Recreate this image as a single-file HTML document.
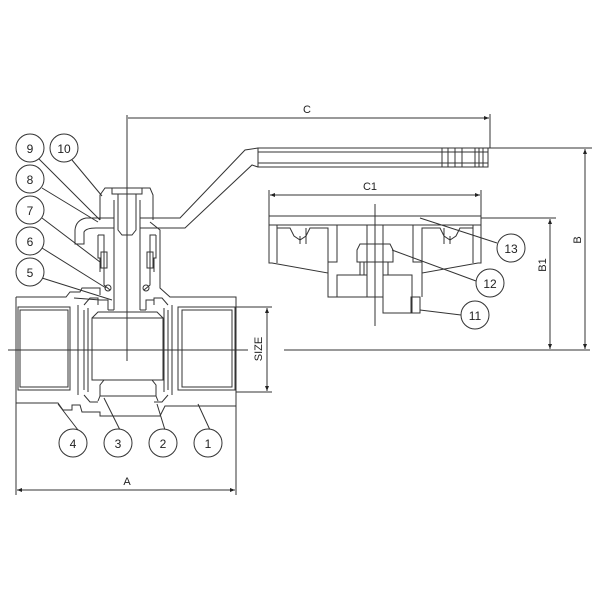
<!DOCTYPE html>
<html><head><meta charset="utf-8"><style>
html,body{margin:0;padding:0;background:#fff;}
svg{display:block;}
text{font-family:"Liberation Sans",Arial,sans-serif;fill:#222;}
</style></head><body>
<svg width="600" height="600" viewBox="0 0 600 600" xmlns="http://www.w3.org/2000/svg">
<defs>
<marker id="ar" viewBox="0 0 10 10" refX="10" refY="5" markerWidth="8" markerHeight="5" orient="auto-start-reverse" markerUnits="userSpaceOnUse">
<path d="M0,1 L10,5 L0,9 z" fill="#222"/></marker>
</defs>
<g fill="none" stroke="#333" stroke-width="1">
<!-- centre lines -->
<line x1="8" y1="350" x2="248" y2="350"/>
<line x1="284" y1="350" x2="590" y2="350"/>
<line x1="127" y1="115" x2="127" y2="361"/>
<line x1="375" y1="204" x2="375" y2="326"/>

<!-- body outer -->
<path d="M16,297 L16,403 L58,403 L63,410 L72,410 L72,405 L80,405 L82,412 L100,412 L100,416 L160,416 L165,406 L236,406 L236,297 L170,297 L160,288 L160,230 L150,222"/>
<path d="M16,297 L66,297 L70,292 L80,292 L82,288 L100,288 L100,295"/>
<path d="M74,298 L100,300"/>
<!-- end bores -->
<rect x="18" y="307" width="52" height="83"/>
<rect x="20" y="310" width="48" height="77"/>
<rect x="178" y="307" width="57" height="83"/>
<rect x="182" y="310" width="50" height="77"/>
<!-- seats -->
<path d="M78,305 L78,395 M84,310 L84,390 M88,308 L88,392"/>
<path d="M172,305 L172,395 M168,310 L168,390 M164,308 L164,392"/>
<path d="M84,305 L90,298 L98,298 L98,305 M84,395 L90,402 L98,402"/>
<path d="M168,305 L162,298 L154,298 L154,305 M168,395 L162,402 L154,402"/>
<!-- ball -->
<path d="M92,318 L92,380 L163,380 L163,318 Z"/>
<path d="M92,318 L98,312 L157,312 L163,318"/>
<path d="M100,385 L104,380 L152,380 L156,385 L156,396 L100,396 Z"/>
<path d="M98,401 L100,396 M156,396 L158,401"/>
<!-- stem -->
<path d="M114,310 L114,200 M140,310 L140,200"/>
<path d="M108,310 L114,310 M140,310 L146,310"/>
<path d="M100,300 L108,300 L108,310 M154,300 L146,300 L146,310"/>
<!-- nut top -->
<path d="M100,220 L100,195 L105,188 L150,188 L153,195 L153,220"/>
<rect x="112" y="188" width="30" height="6"/>
<path d="M118,194 L118,230 L122,235 L132,235 L136,230 L136,194"/>
<!-- gland -->
<path d="M98,235 L104,235 L104,285 L110,290 M156,235 L150,235 L150,285 L144,290"/>
<path d="M98,235 L98,258 L100,258 L100,272 M156,235 L156,258 L154,258 L154,272"/>
<rect x="101" y="252" width="6" height="16"/>
<rect x="147" y="252" width="6" height="16"/>
<circle cx="108" cy="288" r="3"/><circle cx="146" cy="288" r="3"/>
<path d="M160,230 L160,270"/>
<!-- handle -->
<path d="M100,218 L86,218 Q76,220 75,230 L75,244 L84,244 L84,232 Q86,228 96,228 L114,228"/>
<path d="M100,218 L114,218 M140,218 L180,218 L245,150 L258,148 M140,228 L185,228 L252,165 L258,167"/>
<rect x="258" y="148" width="230" height="19"/>
<line x1="258" y1="152" x2="488" y2="152"/>
<line x1="258" y1="163" x2="488" y2="163"/>
<path d="M442,148 V167 M448,148 V167 M455,148 V167 M462,148 V167 M475,148 V167 M479,148 V167 M483,148 V167"/>

<!-- second view -->
<rect x="269" y="216" width="212" height="9"/>
<path d="M269,216 L269,263 L272,263 L328,273 L328,297 L367,297 M481,216 L481,263 L478,263 L422,273 L422,297"/>
<path d="M277,225 L277,263 M473,225 L473,263"/>
<path d="M277,228 L290,228 L294,236 L300,240 L306,236 L310,228 L328,228 L328,273"/>
<path d="M473,228 L460,228 L456,236 L450,240 L444,236 L440,228 L422,228 L422,273"/>
<path d="M306,228 V244 M300,236 V244 M444,228 V244 M450,236 V244"/>
<path d="M337,225 L337,262 L328,262 M413,225 L413,262 L422,262"/>
<rect x="337" y="275" width="30" height="22"/>
<path d="M367,225 V297 L383,297 V225"/>
<path d="M357,262 L357,250 L360,244 L390,244 L393,250 L393,262 Z"/>
<path d="M360,262 V275 M388,262 V275 M364,262 V275"/>
<rect x="383" y="275" width="29" height="38"/>
<rect x="411" y="297" width="9" height="16"/>

<!-- leaders -->
<path d="M38,158 L100,220 M72,160 L102,196 M42,188 L98,222 M42,218 L100,262 M42,248 L106,288 M42,278 L112,300"/>
<path d="M78,430 L58,404 M120,430 L104,398 M165,430 L157,404 M210,430 L198,404"/>
<path d="M497,243 L420,218 M476,281 L392,250 M461,315 L420,310"/>
</g>
<!-- callouts -->
<g fill="#fff" stroke="#333" stroke-width="1">
<circle cx="30" cy="148" r="14"/><circle cx="64" cy="148" r="14"/>
<circle cx="30" cy="179" r="14"/><circle cx="30" cy="210" r="14"/>
<circle cx="30" cy="241" r="14"/><circle cx="30" cy="272" r="14"/>
<circle cx="73" cy="443" r="14"/><circle cx="118" cy="443" r="14"/>
<circle cx="163" cy="443" r="14"/><circle cx="208" cy="443" r="14"/>
<circle cx="511" cy="248" r="14"/><circle cx="490" cy="283" r="14"/>
<circle cx="475" cy="315" r="14"/>
</g>
<g font-size="12" text-anchor="middle">
<text x="30" y="153">9</text><text x="64" y="153">10</text>
<text x="30" y="184">8</text><text x="30" y="215">7</text>
<text x="30" y="246">6</text><text x="30" y="277">5</text>
<text x="73" y="448">4</text><text x="118" y="448">3</text>
<text x="163" y="448">2</text><text x="208" y="448">1</text>
<text x="511" y="253">13</text><text x="490" y="288">12</text>
<text x="475" y="320">11</text>
</g>
<!-- dimensions -->
<g stroke="#333" stroke-width="1" fill="none">
<line x1="16" y1="403" x2="16" y2="495"/><line x1="236" y1="406" x2="236" y2="495"/>
<line x1="17" y1="490" x2="235" y2="490" marker-start="url(#ar)" marker-end="url(#ar)"/>
<line x1="490" y1="114" x2="490" y2="148"/>
<line x1="128" y1="118" x2="489" y2="118" marker-end="url(#ar)"/>
<line x1="269" y1="190" x2="269" y2="216"/><line x1="481" y1="190" x2="481" y2="216"/>
<line x1="270" y1="195" x2="480" y2="195" marker-start="url(#ar)" marker-end="url(#ar)"/>
<line x1="488" y1="148" x2="592" y2="148"/>
<line x1="585" y1="149" x2="585" y2="349" marker-start="url(#ar)" marker-end="url(#ar)"/>
<line x1="481" y1="218" x2="556" y2="218"/>
<line x1="550" y1="219" x2="550" y2="349" marker-start="url(#ar)" marker-end="url(#ar)"/>
<line x1="236" y1="307" x2="272" y2="307"/><line x1="236" y1="392" x2="272" y2="392"/>
<line x1="267" y1="308" x2="267" y2="391" marker-start="url(#ar)" marker-end="url(#ar)"/>
</g>
<g font-size="11" text-anchor="middle">
<text x="127" y="485">A</text>
<text x="307" y="113">C</text>
<text x="370" y="190">C1</text>
<text transform="translate(581,240) rotate(-90)">B</text>
<text transform="translate(546,265) rotate(-90)">B1</text>
<text transform="translate(262,349) rotate(-90)">SIZE</text>
</g>
</svg>
</body></html>
